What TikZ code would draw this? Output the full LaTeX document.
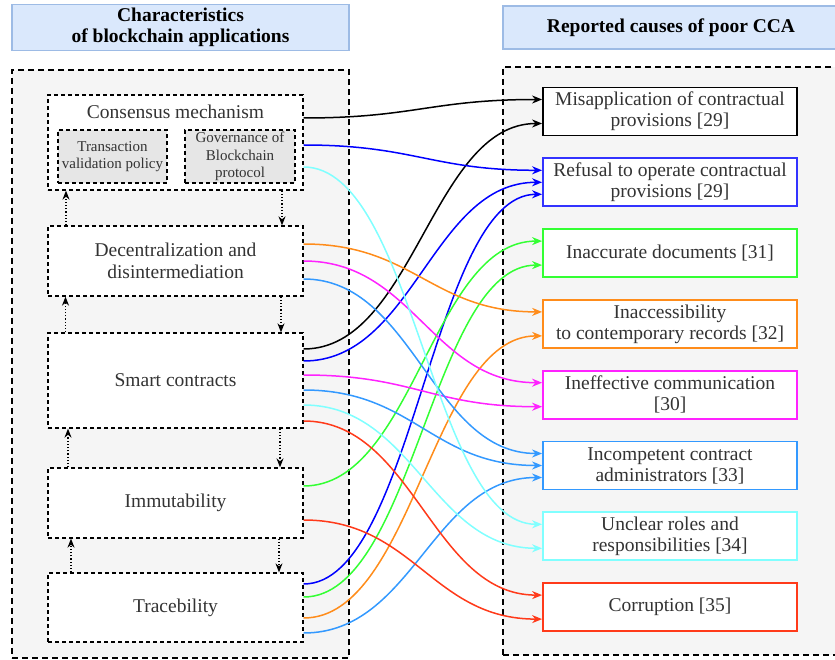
\documentclass[tikz,border=0pt]{standalone}
\usepackage{fontspec}
\setmainfont{Liberation Serif}
\usepackage{xcolor}
\usetikzlibrary{arrows.meta,positioning}

\definecolor{hdrfill}{HTML}{DAE8FC}
\definecolor{hdrline}{HTML}{9DBBE5}
\definecolor{panelfill}{HTML}{F5F5F5}
\definecolor{subfill}{HTML}{E6E6E6}
\definecolor{txtgray}{HTML}{333333}
\definecolor{cblue}{HTML}{0000FF}
\definecolor{cgreen}{HTML}{33FF33}
\definecolor{corange}{HTML}{FF8C1A}
\definecolor{cmagenta}{HTML}{FF22FF}
\definecolor{clblue}{HTML}{3399FF}
\definecolor{ccyan}{HTML}{80FFFF}
\definecolor{cred}{HTML}{FF3A1A}

\begin{document}
\begin{tikzpicture}[
    x=1pt, y=-1pt,
    header/.style={rectangle, draw=hdrline, fill=hdrfill, line width=1.2pt, align=center, font=\fontsize{19.5}{21}\selectfont\bfseries},
    panel/.style={rectangle, draw, fill=panelfill, line width=2pt, dash pattern=on 6pt off 4pt},
    feature/.style={rectangle, draw, fill=white, line width=1.3pt, dash pattern=on 4pt off 3pt, minimum width=255pt, align=center, text=txtgray, font=\fontsize{19.5}{21.5}\selectfont},
    subfeature/.style={rectangle, draw, fill=subfill, line width=1.3pt, dash pattern=on 4pt off 3pt, minimum height=53pt, inner sep=1pt, align=center, text=txtgray, font=\fontsize{15}{17.5}\selectfont},
    cause/.style={rectangle, draw, fill=white, line width=1.8pt, minimum width=254pt, minimum height=48pt, inner sep=1pt, align=center, text=txtgray, font=\fontsize{19.5}{21}\selectfont},
    dotarrow/.style={->, >={Stealth[length=9pt,width=7pt]}, dotted, line width=1.2pt},
    link/.style={->, >={Stealth[length=10pt,width=8pt]}, line width=1.5pt, out=0, in=180, distance=110pt}
]
\useasboundingbox (0,0) rectangle (835,660);

% headers and panels
\node[header, minimum width=337pt, minimum height=43pt] (lefthead) at (180.5,27.5) {Characteristics\\of blockchain applications};
\node[header, minimum width=336pt, minimum height=43pt] (righthead) at (671,27.5) {Reported causes of poor CCA};
\node[panel, minimum width=337pt, minimum height=588pt] (leftpanel) at (180.5,364) {};
\node[panel, minimum width=340pt, minimum height=588pt] (rightpanel) at (673,361) {};

% characteristics
\node[feature, minimum height=95pt] (cons) at (175.5,142.5) {};
\node[text=txtgray, font=\fontsize{19.5}{21}\selectfont] (constitle) at (175.5,112) {Consensus mechanism};
\node[subfeature, minimum width=109pt] (txval) at (112.5,156.5) {Transaction\\validation policy};
\node[subfeature, minimum width=110pt] (govern) at (240,156.5) {Governance of\\Blockchain\\protocol};

\node[feature, minimum height=70pt, below=34.7pt of cons] (dec) {Decentralization and\\disintermediation};
\node[feature, minimum height=95pt, below=35.7pt of dec] (smart) {Smart contracts};
\node[feature, minimum height=70pt, below=38.7pt of smart] (imm) {Immutability};
\node[feature, minimum height=69pt, below=33.7pt of imm] (trace) {Tracebility};

\draw[dotarrow] ([xshift=-109.5pt]dec.north) -- ([xshift=-109.5pt]cons.south);
\draw[dotarrow] ([xshift=106.5pt]cons.south) -- ([xshift=106.5pt]dec.north);
\draw[dotarrow] ([xshift=-110pt]smart.north) -- ([xshift=-110pt]dec.south);
\draw[dotarrow] ([xshift=105.5pt]dec.south) -- ([xshift=105.5pt]smart.north);
\draw[dotarrow] ([xshift=-107.5pt]imm.north) -- ([xshift=-107.5pt]smart.south);
\draw[dotarrow] ([xshift=104.5pt]smart.south) -- ([xshift=104.5pt]imm.north);
\draw[dotarrow] ([xshift=-104.5pt]trace.north) -- ([xshift=-104.5pt]imm.south);
\draw[dotarrow] ([xshift=103.5pt]imm.south) -- ([xshift=103.5pt]trace.north);

% causes
\node[cause, draw=black] (mis) at (670,111.5) {Misapplication of contractual\\provisions [29]};
\node[cause, draw=cblue!80, below=21pt of mis] (refuse) {Refusal to operate contractual\\provisions [29]};
\node[cause, draw=cgreen, below=21pt of refuse] (inaccdoc) {Inaccurate documents [31]};
\node[cause, draw=corange, below=21pt of inaccdoc] (inaccrec) {Inaccessibility\\to contemporary records [32]};
\node[cause, draw=cmagenta, below=21pt of inaccrec] (ineff) {Ineffective communication\\{[30]}};
\node[cause, draw=clblue, below=21pt of ineff] (incomp) {Incompetent contract\\administrators [33]};
\node[cause, draw=ccyan, below=21pt of incomp] (unclear) {Unclear roles and\\responsibilities [34]};
\node[cause, draw=cred, below=21pt of unclear] (corrupt) {Corruption [35]};

% links
\draw[link, black] ([yshift=24.5pt]cons.east) to ([yshift=12pt]mis.west);
\draw[link, black] ([yshift=31.5pt]smart.east) to ([yshift=-12pt]mis.west);
\draw[link, cblue] ([yshift=-2.5pt]cons.east) to ([yshift=12pt]refuse.west);
\draw[link, cblue] ([yshift=19.5pt]smart.east) to (refuse.west);
\draw[link, cblue] ([yshift=23.5pt]trace.east) to ([yshift=-12pt]refuse.west);
\draw[link, cgreen] ([yshift=17pt]imm.east) to ([yshift=12pt]inaccdoc.west);
\draw[link, cgreen] ([yshift=10.5pt]trace.east) to ([yshift=-12pt]inaccdoc.west);
\draw[link, corange] ([yshift=17pt]dec.east) to ([yshift=12pt]inaccrec.west);
\draw[link, corange] ([yshift=-10.5pt]trace.east) to ([yshift=-12pt]inaccrec.west);
\draw[link, cmagenta] (dec.east) to ([yshift=12pt]ineff.west);
\draw[link, cmagenta] ([yshift=5.5pt]smart.east) to ([yshift=-12pt]ineff.west);
\draw[link, clblue] ([yshift=-18pt]dec.east) to ([yshift=12pt]incomp.west);
\draw[link, clblue] ([yshift=-9.5pt]smart.east) to (incomp.west);
\draw[link, clblue] ([yshift=-25.5pt]trace.east) to ([yshift=-12pt]incomp.west);
\draw[link, ccyan] ([yshift=-24.5pt]cons.east) to ([yshift=12pt]unclear.west);
\draw[link, ccyan] ([yshift=-24.5pt]smart.east) to ([yshift=-12pt]unclear.west);
\draw[link, cred] ([yshift=-40.5pt]smart.east) to ([yshift=12pt]corrupt.west);
\draw[link, cred] ([yshift=-17pt]imm.east) to ([yshift=-12pt]corrupt.west);

\end{tikzpicture}
\end{document}
